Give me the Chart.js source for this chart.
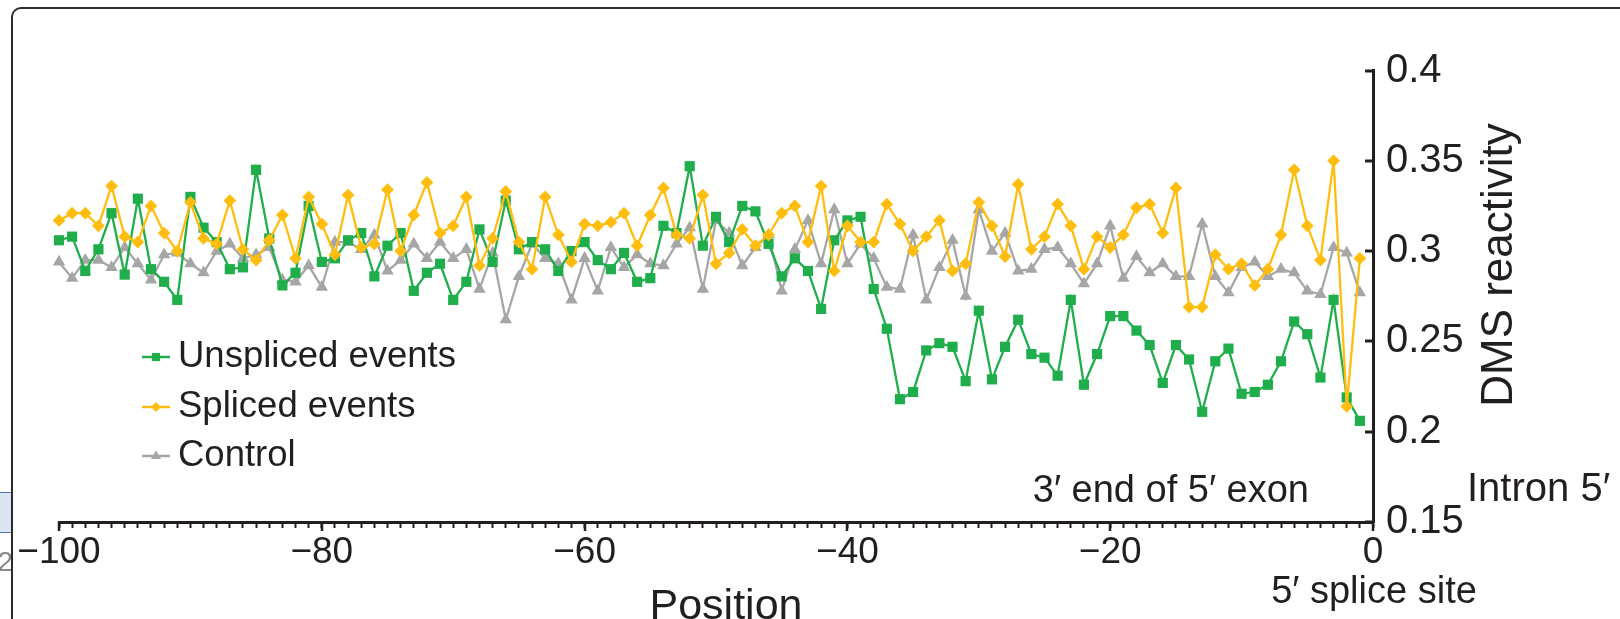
<!DOCTYPE html>
<html>
<head>
<meta charset="utf-8">
<script src="https://cdn.jsdelivr.net/npm/chart.js@4.4.1/dist/chart.umd.min.js"></script>
<style>
html,body{margin:0;padding:0;background:#fff;}
#wrap{position:relative;width:1620px;height:619px;overflow:hidden;background:#fff;}
#c{position:absolute;left:0;top:0;}
.frame{position:absolute;left:11px;top:7px;width:1660px;height:700px;border-left:2px solid #2b2b2b;border-top:2px solid #2b2b2b;border-top-left-radius:10px;box-sizing:border-box;}
.tab{position:absolute;left:0;top:492px;width:11px;height:39px;background:#dce6f2;border-top:1px solid #4a7ab5;border-bottom:1px solid #4a7ab5;}
.pgwrap{position:absolute;left:0;top:546px;width:11px;height:36px;overflow:hidden;}
.pg{position:absolute;right:-2px;top:0;font:28px 'Liberation Sans',Arial,sans-serif;color:#8a8a8a;white-space:nowrap;}
</style>
</head>
<body>
<div id="wrap">
  <canvas id="c" width="1620" height="619"></canvas>
  <div class="frame"></div>
  <div class="tab"></div>
  <div class="pgwrap"><span class="pg">72</span></div>
</div>
<script>
// ---------- DATA ----------
const positions = [-100,-99,-98,-97,-96,-95,-94,-93,-92,-91,-90,-89,-88,-87,-86,-85,-84,-83,-82,-81,
  -80,-79,-78,-77,-76,-75,-74,-73,-72,-71,-70,-69,-68,-67,-66,-65,-64,-63,-62,-61,
  -60,-59,-58,-57,-56,-55,-54,-53,-52,-51,-50,-49,-48,-47,-46,-45,-44,-43,-42,-41,
  -40,-39,-38,-37,-36,-35,-34,-33,-32,-31,-30,-29,-28,-27,-26,-25,-24,-23,-22,-21,
  -20,-19,-18,-17,-16,-15,-14,-13,-12,-11,-10,-9,-8,-7,-6,-5,-4,-3,-2,-1];

const unspliced = [0.306,0.308,0.289,0.301,0.321,0.287,0.329,0.290,0.283,0.273,
  0.330,0.313,0.305,0.290,0.291,0.345,0.307,0.281,0.288,0.325,
  0.294,0.296,0.306,0.310,0.286,0.303,0.310,0.278,0.288,0.293,
  0.273,0.283,0.312,0.294,0.328,0.301,0.305,0.301,0.289,0.300,
  0.305,0.295,0.290,0.299,0.283,0.285,0.314,0.310,0.347,0.303,
  0.319,0.305,0.325,0.322,0.304,0.286,0.296,0.289,0.268,0.306,
  0.317,0.319,0.279,0.257,0.218,0.222,0.245,0.249,0.247,0.228,
  0.267,0.229,0.247,0.262,0.243,0.241,0.231,0.273,0.226,0.243,
  0.264,0.264,0.256,0.248,0.227,0.248,0.240,0.211,0.239,0.246,
  0.221,0.222,0.226,0.239,0.261,0.254,0.230,0.273,0.219,0.206];

const spliced = [0.317,0.321,0.321,0.314,0.336,0.308,0.305,0.325,0.310,0.300,
  0.327,0.307,0.304,0.328,0.301,0.295,0.306,0.320,0.296,0.330,
  0.315,0.298,0.331,0.302,0.304,0.334,0.300,0.320,0.338,0.310,
  0.314,0.330,0.292,0.307,0.333,0.305,0.290,0.330,0.309,0.294,
  0.315,0.314,0.316,0.321,0.303,0.320,0.335,0.309,0.307,0.331,
  0.293,0.299,0.312,0.303,0.309,0.321,0.325,0.305,0.336,0.289,
  0.314,0.305,0.305,0.326,0.315,0.300,0.308,0.317,0.289,0.293,
  0.327,0.314,0.297,0.337,0.301,0.308,0.326,0.314,0.290,0.308,
  0.302,0.309,0.324,0.326,0.310,0.335,0.269,0.269,0.298,0.290,
  0.293,0.281,0.290,0.309,0.345,0.314,0.295,0.350,0.214,0.296];

const control = [0.294,0.285,0.295,0.295,0.291,0.302,0.293,0.284,0.298,0.299,
  0.293,0.288,0.300,0.304,0.296,0.298,0.302,0.284,0.283,0.292,
  0.280,0.305,0.305,0.301,0.309,0.289,0.295,0.304,0.296,0.305,
  0.296,0.301,0.279,0.299,0.262,0.286,0.304,0.296,0.293,0.273,
  0.296,0.278,0.302,0.291,0.298,0.293,0.292,0.304,0.313,0.279,
  0.317,0.310,0.292,0.302,0.309,0.278,0.301,0.317,0.293,0.323,
  0.293,0.304,0.296,0.280,0.279,0.309,0.273,0.291,0.306,0.275,
  0.323,0.300,0.310,0.289,0.290,0.301,0.302,0.293,0.282,0.293,
  0.314,0.285,0.297,0.288,0.293,0.286,0.286,0.315,0.286,0.277,
  0.291,0.294,0.286,0.290,0.288,0.278,0.276,0.302,0.299,0.277];

const seriesNames = ['Unspliced events', 'Spliced events', 'Control'];

const xMajorTicks = [-100, -80, -60, -40, -20, 0];
const xMajorLabels = ['\u2212100', '\u221280', '\u221260', '\u221240', '\u221220', '0'];
const yTicks = [0.15, 0.2, 0.25, 0.3, 0.35, 0.4];
const yTickLabels = ['0.15', '0.2', '0.25', '0.3', '0.35', '0.4'];

// ---------- STYLE ----------
const FONT = "'Liberation Sans', Arial, Helvetica, sans-serif";
const INK = '#231f20';
const COLORS = ['#1fae4b', '#ffbd0f', '#a6a6a6'];
const STYLES = ['rect', 'rectRot', 'triangle'];
const RADII = [7.2, 6.4, 7.2];

Chart.defaults.font.family = FONT;
Chart.defaults.color = INK;

function toPoints(vals) { return positions.map((p, i) => ({ x: p, y: vals[i] })); }

const allSeries = [unspliced, spliced, control];
const datasets = allSeries.map((vals, i) => ({
  label: seriesNames[i],
  data: toPoints(vals),
  borderColor: COLORS[i],
  backgroundColor: COLORS[i],
  borderWidth: 2.3,
  pointStyle: STYLES[i],
  pointRadius: RADII[i],
  pointBackgroundColor: COLORS[i],
  pointBorderColor: COLORS[i],
  pointBorderWidth: 0,
  tension: 0,
  clip: false,
  order: [1, 0, 2][i]
}));

function drawMarker(ctx, style, x, y, r, color) {
  ctx.save();
  ctx.fillStyle = color;
  ctx.beginPath();
  if (style === 'rect') {
    const s = Math.SQRT1_2 * r;
    ctx.rect(x - s, y - s, 2 * s, 2 * s);
  } else if (style === 'rectRot') {
    ctx.moveTo(x, y - r); ctx.lineTo(x + r, y); ctx.lineTo(x, y + r); ctx.lineTo(x - r, y); ctx.closePath();
  } else {
    let a = 0;
    ctx.moveTo(x + Math.sin(a) * r, y - Math.cos(a) * r);
    a += 2 * Math.PI / 3; ctx.lineTo(x + Math.sin(a) * r, y - Math.cos(a) * r);
    a += 2 * Math.PI / 3; ctx.lineTo(x + Math.sin(a) * r, y - Math.cos(a) * r);
    ctx.closePath();
  }
  ctx.fill();
  ctx.restore();
}

const decor = {
  id: 'decor',
  afterDraw(chart) {
    const ctx = chart.ctx;
    const xs = chart.scales.x, ys = chart.scales.y;
    ctx.save();
    // y ticks pointing left
    ctx.strokeStyle = INK; ctx.lineWidth = 3;
    yTicks.forEach(v => {
      const py = Math.round(ys.getPixelForValue(v));
      ctx.beginPath(); ctx.moveTo(xs.right, py); ctx.lineTo(xs.right - 8, py); ctx.stroke();
    });
    // longer major x ticks
    ctx.lineWidth = 2.5;
    xMajorTicks.forEach(v => {
      const px = Math.round(xs.getPixelForValue(v));
      ctx.beginPath(); ctx.moveTo(px, ys.bottom); ctx.lineTo(px, ys.bottom + 9); ctx.stroke();
    });
    // legend
    const legY = [357, 407, 456];
    seriesNames.forEach((name, i) => {
      ctx.strokeStyle = COLORS[i]; ctx.lineWidth = 2.5;
      ctx.beginPath(); ctx.moveTo(142, legY[i]); ctx.lineTo(170, legY[i]); ctx.stroke();
      drawMarker(ctx, STYLES[i], 156, legY[i], RADII[i] * 0.8, COLORS[i]);
      ctx.fillStyle = INK; ctx.font = '36.5px ' + FONT;
      ctx.textAlign = 'left'; ctx.textBaseline = 'middle';
      ctx.fillText(name, 178, legY[i]);
    });
    // annotations
    ctx.fillStyle = INK;
    ctx.textBaseline = 'alphabetic';
    ctx.font = '38px ' + FONT;
    ctx.textAlign = 'right'; ctx.fillText('3\u2032 end of 5\u2032 exon', 1309, 502);
    ctx.textAlign = 'center'; ctx.fillText('5\u2032 splice site', xs.getPixelForValue(0) + 1, 603);
    ctx.font = '40px ' + FONT;
    ctx.textAlign = 'left'; ctx.fillText('Intron 5\u2032', 1467, 501);
    ctx.textAlign = 'center';
    ctx.font = '43px ' + FONT;
    ctx.fillText('Position', 726, 619);
    // y title
    ctx.save();
    ctx.translate(1512, 265);
    ctx.rotate(-Math.PI / 2);
    ctx.font = '44px ' + FONT;
    ctx.textAlign = 'center';
    ctx.fillText('DMS reactivity', 0, 0);
    ctx.restore();
    ctx.restore();
  }
};

new Chart(document.getElementById('c'), {
  type: 'line',
  data: { datasets },
  options: {
    responsive: false,
    animation: false,
    devicePixelRatio: 1,
    layout: { padding: { left: 59, top: 70.5, right: 0, bottom: 0 } },
    plugins: { legend: { display: false }, tooltip: { enabled: false } },
    scales: {
      x: {
        type: 'linear',
        position: 'bottom',
        min: -100, max: 0,
        afterBuildTicks: (s) => {
          const t = [];
          for (let v = -100; v <= 0; v++) t.push({ value: v });
          s.ticks = t;
        },
        afterFit: (s) => { s.height = 97; },
        ticks: {
          autoSkip: false, maxRotation: 0, minRotation: 0, padding: 3,
          font: { size: 37 }, color: INK,
          callback: (v) => { const k = xMajorTicks.indexOf(v); return k >= 0 ? xMajorLabels[k] : ''; }
        },
        grid: { display: true, drawOnChartArea: false, drawTicks: true, tickLength: 6, tickWidth: 2, tickColor: INK },
        border: { display: true, width: 3, color: INK }
      },
      y: {
        type: 'linear',
        position: 'right',
        min: 0.15, max: 0.4,
        afterBuildTicks: (s) => { s.ticks = yTicks.map(v => ({ value: v })); },
        afterFit: (s) => { s.width = 247; },
        ticks: {
          padding: 5, font: { size: 40 }, color: INK,
          callback: (v) => { const k = yTicks.findIndex(t => Math.abs(t - v) < 1e-9); return k >= 0 ? yTickLabels[k] : ''; }
        },
        grid: { display: false },
        border: { display: true, width: 3, color: INK }
      }
    }
  },
  plugins: [decor]
});
</script>
</body>
</html>
